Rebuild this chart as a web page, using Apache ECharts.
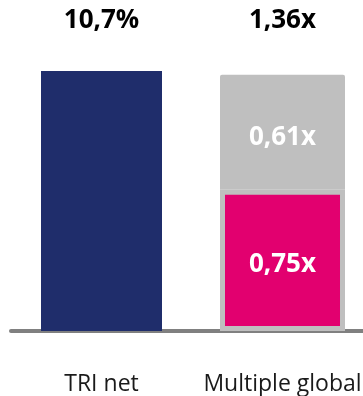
<!DOCTYPE html>
<html>
<head>
<meta charset="utf-8">
<script src="https://cdn.jsdelivr.net/npm/echarts@6/dist/echarts.min.js"></script>
<style>
  html, body { margin: 0; padding: 0; background: #ffffff; }
  #chart { width: 363px; height: 396px; }
</style>
</head>
<body>
<div id="chart"></div>
<script>
// Categories and values
const categories = ['TRI net', 'Multiple global'];
const triNet = [10.7, '-'];            // %
const multipleBase = ['-', 0.75];      // x
const multipleTop = ['-', 0.61];       // x
const multipleTotal = ['-', 1.36];     // x

const fmtNum = (v, d) => v.toFixed(d).replace('.', ',');
const FONT = '"Open Sans", "Liberation Sans", sans-serif';

const chart = echarts.init(document.getElementById('chart'));
chart.setOption({
  animation: false,
  grid: { left: 11, right: -10, top: 71, bottom: 65, outerBoundsMode: 'none', containLabel: false },
  xAxis: [
    {
      type: 'category',
      data: categories,
      offset: 2,
      axisLine: { lineStyle: { color: '#808080', width: 4 } },
      axisTick: { show: false },
      axisLabel: {
        color: '#1a1a1a', fontFamily: FONT, fontSize: 23, margin: 40,
        interval: 0, hideOverlap: false
      }
    },
    { type: 'category', data: categories, show: false }
  ],
  yAxis: [
    { type: 'value', min: 0, max: 10.7, show: false, splitLine: { show: false } },
    { type: 'value', min: 0, max: 1.38, show: false, splitLine: { show: false } }
  ],
  series: [
    {
      name: 'TRI net',
      type: 'bar',
      xAxisIndex: 0, yAxisIndex: 0,
      barWidth: 121,
      data: triNet,
      itemStyle: { color: '#1f2d6b' },
      label: {
        show: true, position: 'top', distance: 37,
        formatter: p => fmtNum(p.value, 1) + '%',
        color: '#000000', fontFamily: FONT, fontWeight: 'bold', fontSize: 26
      }
    },
    {
      name: 'Base',
      type: 'bar',
      xAxisIndex: 1, yAxisIndex: 1,
      stack: 'multiple',
      barWidth: 125,
      data: multipleBase,
      itemStyle: { color: '#e2006f', borderColor: '#bfbfbf', borderWidth: 5 },
      label: {
        show: true, position: 'inside', offset: [0, 4],
        formatter: p => fmtNum(p.value, 2) + 'x',
        color: '#ffffff', fontFamily: FONT, fontWeight: 'bold', fontSize: 26
      }
    },
    {
      name: 'Top',
      type: 'bar',
      xAxisIndex: 1, yAxisIndex: 1,
      stack: 'multiple',
      barWidth: 125,
      data: multipleTop,
      itemStyle: { color: '#bfbfbf', borderRadius: [2, 2, 0, 0] },
      label: {
        show: true, position: 'inside', offset: [0, 5],
        formatter: p => fmtNum(p.value, 2) + 'x',
        color: '#ffffff', fontFamily: FONT, fontWeight: 'bold', fontSize: 26
      }
    },
    {
      name: 'Total',
      type: 'bar',
      xAxisIndex: 1, yAxisIndex: 1,
      barWidth: 125,
      barGap: '-100%',
      data: multipleTotal,
      itemStyle: { color: 'rgba(0,0,0,0)' },
      z: 1,
      label: {
        show: true, position: 'top', distance: 40.7,
        formatter: p => fmtNum(p.value, 2) + 'x',
        color: '#000000', fontFamily: FONT, fontWeight: 'bold', fontSize: 26
      }
    }
  ]
});
</script>
</body>
</html>
